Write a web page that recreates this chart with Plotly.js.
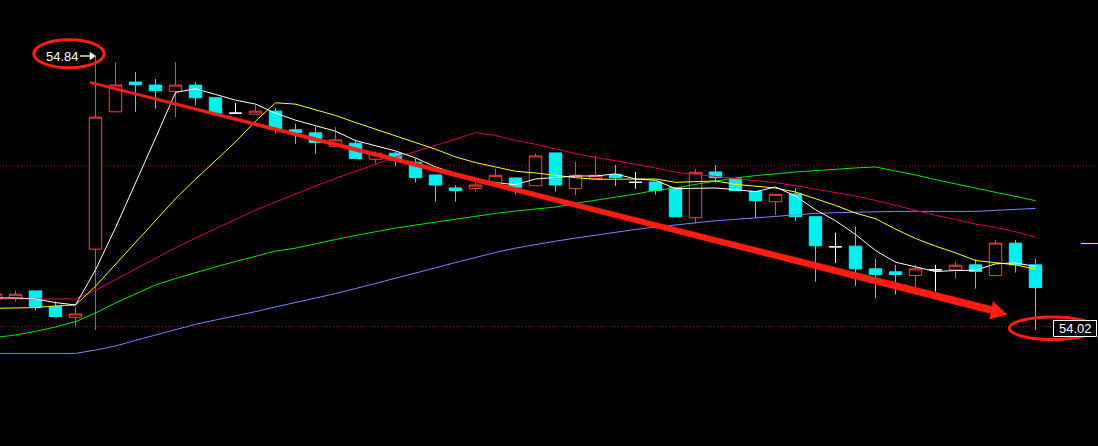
<!DOCTYPE html>
<html><head><meta charset="utf-8">
<script src="https://cdn.plot.ly/plotly-3.0.1.min.js"></script>
<style>html,body{margin:0;padding:0;background:#000;}#chart{width:1098px;height:446px;}</style>
</head><body><div id="chart"></div>
<script>
// Candle data (one bar per session, oldest first)
const open  = [54.113,54.115,54.137,54.090,54.058,54.262,54.673,54.762,54.753,54.734,54.753,54.715,54.669,54.666,54.675,54.619,54.610,54.570,54.579,54.531,54.549,54.522,54.484,54.445,54.444,54.454,54.475,54.452,54.550,54.443,54.473,54.486,54.462,54.463,54.446,54.356,54.493,54.473,54.435,54.404,54.427,54.359,54.269,54.271,54.203,54.194,54.183,54.200,54.200,54.215,54.183,54.280,54.215];
const high  = [54.134,54.138,54.137,54.105,54.088,54.840,54.821,54.792,54.771,54.821,54.762,54.717,54.699,54.693,54.685,54.637,54.628,54.627,54.589,54.554,54.553,54.534,54.484,54.454,54.464,54.502,54.475,54.549,54.550,54.523,54.541,54.514,54.493,54.463,54.446,54.502,54.514,54.473,54.435,54.426,54.446,54.359,54.311,54.329,54.233,54.215,54.215,54.215,54.224,54.232,54.289,54.289,54.233];
const low   = [54.107,54.105,54.078,54.060,54.030,54.020,54.673,54.673,54.682,54.657,54.693,54.669,54.669,54.666,54.609,54.577,54.547,54.570,54.533,54.519,54.511,54.461,54.404,54.404,54.434,54.454,54.426,54.452,54.434,54.424,54.473,54.451,54.443,54.425,54.359,54.339,54.461,54.437,54.356,54.364,54.346,54.165,54.221,54.152,54.114,54.126,54.148,54.135,54.174,54.144,54.183,54.192,54.020];
const close = [54.128,54.127,54.090,54.060,54.068,54.657,54.753,54.754,54.736,54.753,54.715,54.669,54.669,54.675,54.621,54.611,54.581,54.589,54.533,54.549,54.529,54.476,54.454,54.437,54.454,54.483,54.447,54.541,54.454,54.483,54.483,54.476,54.462,54.437,54.359,54.492,54.476,54.437,54.407,54.426,54.359,54.272,54.269,54.203,54.186,54.186,54.203,54.200,54.214,54.195,54.280,54.215,54.147];

// Moving averages
const ma5  = [54.116,54.116,54.113,54.102,54.095,54.200,54.326,54.458,54.594,54.731,54.742,54.725,54.708,54.696,54.669,54.648,54.631,54.615,54.587,54.572,54.556,54.535,54.508,54.489,54.470,54.461,54.455,54.472,54.476,54.481,54.481,54.487,54.472,54.468,54.443,54.445,54.445,54.440,54.434,54.448,54.421,54.380,54.347,54.306,54.258,54.223,54.209,54.195,54.198,54.199,54.218,54.221,54.210];
const ma10 = [54.085,54.086,54.087,54.092,54.095,54.151,54.217,54.283,54.347,54.413,54.471,54.526,54.583,54.645,54.700,54.696,54.678,54.662,54.641,54.621,54.602,54.583,54.561,54.538,54.521,54.508,54.495,54.490,54.482,54.476,54.471,54.471,54.472,54.472,54.462,54.463,54.466,54.456,54.451,54.445,54.433,54.413,54.393,54.370,54.353,54.322,54.294,54.271,54.251,54.228,54.221,54.215,54.202];
const ma20 = [54.113,54.113,54.113,54.113,54.113,54.139,54.171,54.203,54.234,54.266,54.295,54.323,54.351,54.379,54.403,54.428,54.451,54.474,54.495,54.517,54.537,54.554,54.572,54.591,54.611,54.602,54.587,54.576,54.562,54.548,54.537,54.527,54.517,54.505,54.492,54.486,54.481,54.473,54.467,54.461,54.452,54.442,54.433,54.421,54.408,54.393,54.380,54.363,54.351,54.337,54.327,54.314,54.298];
const ma40 = [53.998,54.005,54.016,54.029,54.045,54.071,54.101,54.129,54.155,54.174,54.192,54.209,54.225,54.240,54.256,54.265,54.279,54.291,54.303,54.315,54.325,54.334,54.343,54.352,54.360,54.369,54.376,54.382,54.388,54.399,54.408,54.417,54.427,54.438,54.445,54.456,54.466,54.475,54.482,54.488,54.493,54.497,54.502,54.505,54.508,54.497,54.484,54.470,54.457,54.443,54.432,54.420,54.407];
const ma60 = [53.950,53.950,53.950,53.950,53.950,53.960,53.972,53.989,54.005,54.021,54.037,54.050,54.062,54.075,54.089,54.102,54.116,54.129,54.144,54.159,54.174,54.189,54.206,54.222,54.238,54.252,54.265,54.276,54.286,54.295,54.304,54.313,54.321,54.328,54.335,54.342,54.347,54.351,54.356,54.360,54.365,54.369,54.371,54.373,54.374,54.375,54.375,54.375,54.375,54.375,54.378,54.381,54.384];

// Marked levels
const highLabel = 54.84;
const lowLabel = 54.02;
const refLevels = [54.511, 54.030];
const markerLevel = 54.279;

const xs = open.map((_, i) => i);
function subset(pred){
  const o=[],h=[],l=[],c=[],x=[];
  xs.forEach(i=>{ if(pred(i)){x.push(i);o.push(open[i]);h.push(high[i]);l.push(low[i]);c.push(close[i]);} });
  return {x:x,open:o,high:h,low:l,close:c};
}
const UP='#ff4040', DOWN='#00f0f0';
function candle(d, color, fill){
  return Object.assign({type:'candlestick', hoverinfo:'none', showlegend:false, whiskerwidth:0,
    increasing:{line:{color:color,width:1}, fillcolor:fill},
    decreasing:{line:{color:color,width:1}, fillcolor:fill}}, d);
}
const traces = [
  candle(subset(i=>close[i]>open[i]), UP, '#000000'),
  candle(subset(i=>close[i]<open[i]), DOWN, DOWN),
  candle(subset(i=>close[i]===open[i]), '#ffffff', '#ffffff')
];
function ma(y, color){ return {type:'scatter', mode:'lines', x:xs, y:y, line:{color:color,width:1}, hoverinfo:'none', showlegend:false}; }
traces.push(ma(ma60,'#8080ff'), ma(ma40,'#00e600'), ma(ma20,'#d6005c'), ma(ma10,'#ffff00'), ma(ma5,'#ffffff'));

const W=1098, H=446;
const px = x => x/W, py = y => 1 - y/H;
const pt = (x,y) => px(x)+','+py(y);
const RED='#ff1e10';
const arrowPath = 'M '+pt(90,81.3)+' L '+pt(992.5,306.5)+' L '+pt(993,301.5)+' L '+pt(1007,314.5)+' L '+pt(989.5,319)+' L '+pt(990.5,313.5)+' L '+pt(90,83.5)+' Z';
const shapes = refLevels.map(v=>({type:'line', layer:'below', xref:'paper', x0:0, x1:1, yref:'y', y0:v, y1:v, line:{color:'#a00000', width:1, dash:'1px,2px'}}));
shapes.push(
  {type:'line', xref:'paper', x0:px(1081), x1:1, yref:'y', y0:markerLevel, y1:markerLevel, line:{color:'#ffff00', width:1}},
  {type:'path', xref:'paper', yref:'paper', path:arrowPath, fillcolor:RED, line:{color:RED, width:0.5}},
  {type:'circle', xref:'paper', yref:'paper', x0:px(33.8), x1:px(104.2), y0:py(67.8), y1:py(39.8), line:{color:RED, width:3}},
  {type:'circle', xref:'paper', yref:'paper', x0:px(1009.5), x1:px(1095.5), y0:py(339.5), y1:py(317), line:{color:RED, width:3}},
  {type:'rect', xref:'paper', yref:'paper', x0:px(1053.5), x1:px(1096.5), y0:py(336.5), y1:py(320.5), fillcolor:'#000000', line:{color:'#ffffff', width:1}},
  {type:'line', xref:'paper', yref:'y', x0:px(80), x1:px(91), y0:highLabel, y1:highLabel, line:{color:'#ffffff', width:1.3}},
  {type:'path', xref:'paper', yref:'paper', path:'M '+pt(90,52.3)+' L '+pt(95.5,56)+' L '+pt(90,59.7)+' Z', fillcolor:'#ffffff', line:{color:'#ffffff', width:0.5}}
);
const font = {family:'"Liberation Sans", Arial, sans-serif', size:13, color:'#ffffff'};
const annotations = [
  {xref:'paper', x:px(62.5), yref:'y', y:highLabel, text:highLabel.toFixed(2), showarrow:false, xanchor:'center', yanchor:'middle', font:font},
  {xref:'paper', x:px(1075), yref:'y', y:lowLabel, yshift:2, text:lowLabel.toFixed(2), showarrow:false, xanchor:'center', yanchor:'middle', font:font}
];
const layout = {
  width:W, height:H, margin:{l:0,r:0,t:0,b:0},
  paper_bgcolor:'#000000', plot_bgcolor:'#000000',
  showlegend:false, boxmode:'overlay', boxgap:0.11,
  xaxis:{range:[0.225,55.125], visible:false, showgrid:false, zeroline:false, rangeslider:{visible:false}, fixedrange:true},
  yaxis:{range:[53.6729,55.0076], visible:false, showgrid:false, zeroline:false, fixedrange:true},
  shapes:shapes, annotations:annotations
};
Plotly.newPlot('chart', traces, layout, {staticPlot:true, displayModeBar:false});
</script></body></html>
